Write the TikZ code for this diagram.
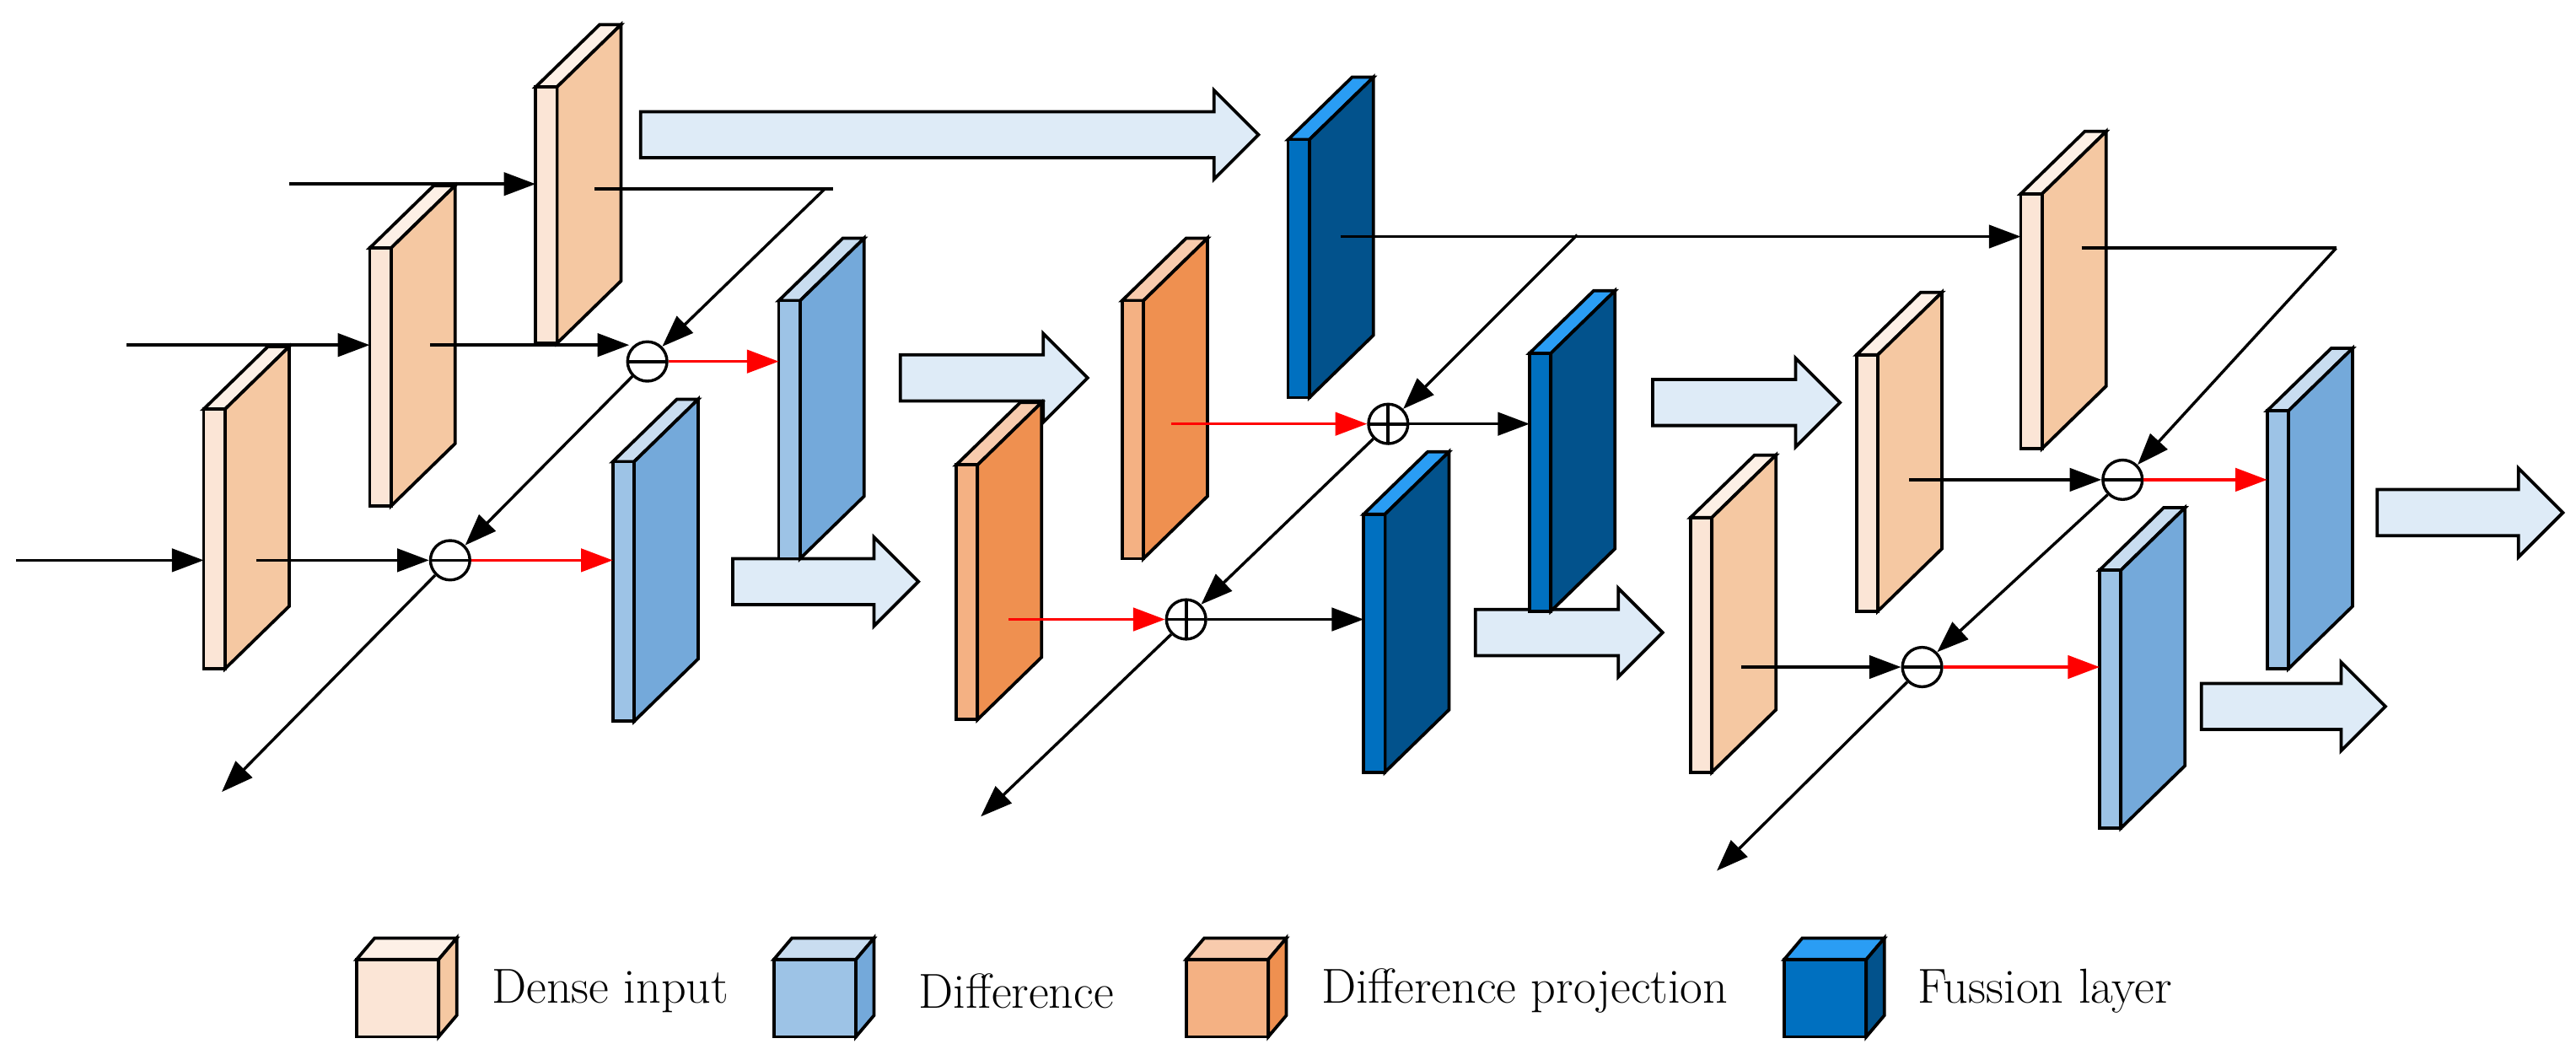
\documentclass[tikz,border=0pt]{standalone}
\usetikzlibrary{arrows.meta}
\definecolor{dinF}{HTML}{FBE5D6}\definecolor{dinS}{HTML}{F5C8A2}\definecolor{dinT}{HTML}{FDF0E6}
\definecolor{difF}{HTML}{9DC3E6}\definecolor{difS}{HTML}{74A9DA}\definecolor{difT}{HTML}{C9DDF0}
\definecolor{prF}{HTML}{F4B183}\definecolor{prS}{HTML}{EF9050}\definecolor{prT}{HTML}{F8CBAD}
\definecolor{fuF}{HTML}{0070C0}\definecolor{fuS}{HTML}{02528C}\definecolor{fuT}{HTML}{2A9DF4}
\definecolor{arF}{HTML}{DEEBF7}
\newcommand\slab[6]{%
 \draw[slabline,fill=#6] (#1,#2) -- ++(13,0) -- ++(39,-38) -- ++(-13,0) -- cycle;
 \draw[slabline,fill=#5] (#1+13,#2) -- ++(39,-38) -- ++(0,#3) -- ++(-39,38) -- cycle;
 \draw[slabline,fill=#4] (#1,#2) rectangle ++(13,#3);}
\newcommand\cube[5]{%
 \draw[slabline,fill=#5] (#1,#2) -- ++(50,0) -- ++(11,-13) -- ++(-50,0) -- cycle;
 \draw[slabline,fill=#4] (#1+50,#2) -- ++(11,-13) -- ++(0,47) -- ++(-11,13) -- cycle;
 \draw[slabline,fill=#3] (#1,#2) rectangle ++(50,47);}
\newcommand\bigarr[3]{%
 \draw[slabline,fill=arF] (#1,#3-14) -- (#2-27,#3-14) -- (#2-27,#3-27) -- (#2,#3) -- (#2-27,#3+27) -- (#2-27,#3+14) -- (#1,#3+14) -- cycle;}
\tikzset{slabline/.style={line width=1.1pt,line join=miter},
 ln/.style={line width=1pt},
 ar/.style={ln,-{Triangle[length=11pt,width=8pt]}},
 rar/.style={ar,red},
 op/.style={circle,draw,line width=1pt,minimum size=0.48cm,inner sep=0pt,fill=white},
 minus/.style={op,path picture={\draw[line width=1.1pt] (path picture bounding box.west) -- (path picture bounding box.east);}},
 plus/.style={op,path picture={\draw[line width=1.1pt] (path picture bounding box.west) -- (path picture bounding box.east) (path picture bounding box.north) -- (path picture bounding box.south);}}}
\begin{document}
\begin{tikzpicture}[x=0.02cm,y=-0.02cm]
\useasboundingbox (0,0) rectangle (1568,645);
% big arrows
\bigarr{390}{766}{82}
\bigarr{446}{559}{354}
\bigarr{548}{662}{230}
\bigarr{898}{1012}{385}
\bigarr{1006}{1120}{245}
\bigarr{1447}{1560}{312}
\bigarr{1340}{1452}{430}
% slabs
\slab{326}{53}{156}{dinF}{dinS}{dinT}
\slab{225}{151}{157}{dinF}{dinS}{dinT}
\slab{124}{249}{158}{dinF}{dinS}{dinT}
\slab{474}{183}{157}{difF}{difS}{difT}
\slab{373}{281}{158}{difF}{difS}{difT}
\slab{683}{183}{157}{prF}{prS}{prT}
\slab{582}{283}{155}{prF}{prS}{prT}
\slab{784}{85}{157}{fuF}{fuS}{fuT}
\slab{931}{215}{157}{fuF}{fuS}{fuT}
\slab{830}{313}{157}{fuF}{fuS}{fuT}
\slab{1230}{118}{155}{dinF}{dinS}{dinT}
\slab{1130}{216}{156}{dinF}{dinS}{dinT}
\slab{1029}{315}{155}{dinF}{dinS}{dinT}
\slab{1380}{250}{157}{difF}{difS}{difT}
\slab{1278}{347}{157}{difF}{difS}{difT}
% operators
\node[minus] (m1) at (394,220) {};
\node[minus] (m2) at (274,341) {};
\node[plus] (p3) at (845,258) {};
\node[plus] (p4) at (722,377) {};
\node[minus] (m5) at (1292,292) {};
\node[minus] (m6) at (1170,406) {};
% coordinates
\coordinate (i1) at (10,341); \coordinate (d1) at (124,341);
\coordinate (i2) at (77,210); \coordinate (d2) at (225,210);
\coordinate (i3) at (176,112); \coordinate (d3) at (326,112);
\coordinate (o1) at (156,341); \coordinate (o2) at (262,210);
\coordinate (o3) at (362,115); \coordinate (k3) at (507,115); \coordinate (k3b) at (502,115);
\coordinate (e2) at (135,482);
\coordinate (b2) at (474,222); \coordinate (b1) at (373,341);
\draw[ar] (i1) -- (d1);
\draw[ar] (i2) -- (d2);
\draw[ar] (i3) -- (d3);
\draw[ar] (o1) -- (m2.west);
\draw[ar] (o2) -- (383,210);
\draw[ln] (o3) -- (k3);
\draw[ar] (k3b) -- (m1.north east);
\draw[ar] (m1.south west) -- (m2.north east);
\draw[ar] (m2.south west) -- (e2);
\draw[rar] (m1.east) -- (m1.east -| b2);
\draw[rar] (m2.east) -- (m2.east -| b1);
% mid
\coordinate (f1) at (816,144); \coordinate (d4) at (1230,144);
\coordinate (k5) at (960,143); \coordinate (e4) at (597,497);
\coordinate (f2) at (931,258); \coordinate (f3) at (830,377);
\draw[ar] (f1) -- (d4);
\draw[ar] (k5) -- (p3.north east);
\draw[rar] (713,258) -- (p3.west);
\draw[ar] (p3.east) -- (f2);
\draw[ar] (p3.south west) -- (p4.north east);
\draw[rar] (614,377) -- (p4.west);
\draw[ar] (p4.east) -- (f3);
\draw[ar] (p4.south west) -- (e4);
% right
\coordinate (o4) at (1267,151); \coordinate (k6) at (1422,151);
\coordinate (b3) at (1380,292); \coordinate (b4) at (1278,406);
\draw[ln] (o4) -- (k6);
\draw[ar] (k6) -- (m5.north east);
\draw[ar] (1162,292) -- (m5.west);
\draw[rar] (m5.east) -- (b3);
\draw[ar] (m5.south west) -- (m6.north east);
\draw[ar] (1060,406) -- (m6.west);
\draw[rar] (m6.east) -- (b4);
\draw[ar] (m6.south west) -- (1045,530);
% legend
\cube{217}{584}{dinF}{dinS}{dinT}
\cube{471}{584}{difF}{difS}{difT}
\cube{722}{584}{prF}{prS}{prT}
\cube{1086}{584}{fuF}{fuS}{fuT}
\tikzset{lg/.style={anchor=west,inner sep=0pt,font=\fontsize{17}{20}\selectfont}}
\node[lg] (t1) at (299,603) {Dense input};
\node[lg] (t2) at (559,603) {Difference};
\node[lg] (t3) at (804,603) {Difference projection};
\node[lg] (t4) at (1167,603) {Fussion layer};
\end{tikzpicture}
\end{document}
